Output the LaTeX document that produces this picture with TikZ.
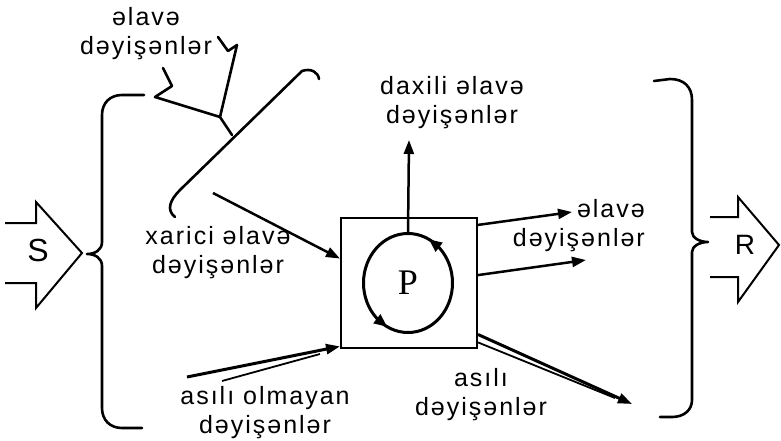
\documentclass[tikz,border=0pt]{standalone}
\usepackage{fontspec}
\setmainfont{Liberation Sans}
\newfontfamily\lblfont[LetterSpace=8]{Liberation Sans}
\newfontfamily\pfont{Liberation Serif}
\usetikzlibrary{arrows.meta,shapes.geometric,calc}
\begin{document}
\begin{tikzpicture}[x=1pt,y=-1pt,
  lbl/.style={font=\lblfont\fontsize{25}{29}\selectfont, align=center, inner sep=0pt},
  conn/.style={line width=2.5pt, -{Triangle[length=14pt,width=10pt]}},
  thinline/.style={line width=1.8pt},
  bracepath/.style={line width=2.6pt, line cap=round, line join=round},
  blockarrow/.style={line width=2pt, line join=miter},
  tip/.style={line width=2.5pt, -{Triangle[length=13pt,width=11pt]}}
]
\useasboundingbox (0,0) rectangle (781,441);

% main box and cycle
\node[draw, line width=2pt, minimum width=136, minimum height=130, inner sep=0pt] (box) at (409,283) {};
\node[draw, ellipse, line width=3pt, minimum width=89, minimum height=99, inner sep=0pt,
      font=\pfont\fontsize{36}{36}\selectfont] (circ) at (408,283) {P};
\draw[tip] (437.8,246.2) -- (428.9,239.3);
\draw[tip] (378.2,319.8) -- (387.1,326.7);

% block arrows
\draw[blockarrow] (5,223) -- (36,223) -- (36,202) -- (82,253) -- (36,308) -- (36,283) -- (5,283);
\node[font=\fontsize{32}{32}\selectfont, inner sep=0pt] (s) at (38,250) {S};
\draw[blockarrow] (710,217) -- (738,217) -- (738,197) -- (779,245) -- (738,302) -- (738,277) -- (710,277);
\node[font=\fontsize{28}{28}\selectfont, inner sep=0pt] (r) at (745,245) {R};

% braces
\draw[bracepath] (144,95) -- (122,95) .. controls (110,95) and (102,103) .. (102,115) -- (102,242)
  .. controls (102,250) and (95,254) .. (87,254) .. controls (95,254) and (102,258) .. (102,266)
  -- (102,408) .. controls (102,420) and (110,428) .. (122,428) -- (142,428);
\draw[bracepath] (654,81) -- (670,79) .. controls (684,79) and (692,87) .. (692,100) -- (692,232)
  .. controls (692,238) and (700,242) .. (708,242) .. controls (700,242) and (692,246) .. (692,252)
  -- (692,400) .. controls (692,410) and (684,417) .. (672,417) -- (660,417);

% labels
\node[lbl] (tl) at (146,34) {əlavə\\dəyişənlər};
\node[lbl] (dx) at (452,103) {daxili əlavə\\dəyişənlər};
\node[lbl] (xr) at (218,253) {xarici əlavə\\dəyişənlər};
\node[lbl] (ao) at (265,413) {asılı olmayan\\dəyişənlər};
\node[lbl, align=right, anchor=east] (rt) at (645,226) {əlavə\\dəyişənlər};
\node[lbl] (as) at (481,395) {asılı\\dəyişənlər};

% top-left bracket and pointer
\coordinate (dtop) at (319,79);
\coordinate (djoin) at (232,135);
\coordinate (zj) at (220,117);
\draw[bracepath] (dtop) .. controls (318,72) and (311,68) .. (302,71) -- (180,190)
  .. controls (170,200) and (166,210) .. (175,217);
\draw[bracepath] (218,37) -- (228,51) -- (237,45) -- (zj) -- (djoin);
\draw[bracepath] (163,68) -- (172,86) -- (155,97) -- (zj);

% connectors
\coordinate (xa) at (213,193);
\draw[conn] (xa) -- ($(box.north west)!0.315!(box.south west)$);
\coordinate (dxa) at (409,140);
\draw[conn] (circ.north) -- (dxa);
\coordinate (r1) at (572,212);
\coordinate (r2) at (586,260);
\draw[conn] ($(box.north east)!0.06!(box.south east)$) -- (r1);
\draw[conn] ($(box.north east)!0.44!(box.south east)$) -- (r2);
\coordinate (aoa) at (187,377);
\coordinate (aob) at (222,381);
\coordinate (aoc) at (320,354);
\draw[conn, line width=3pt] (aoa) -- ($(box.north west)!0.98!(box.south west)$);
\draw[thinline] (aob) -- (aoc);
\coordinate (asa) at (632,404);
\coordinate (asb) at (615,398);
\draw[conn, line width=3pt] ($(box.north east)!0.89!(box.south east)$) -- (asa);
\draw[thinline] ($(box.north east)!0.95!(box.south east)$) -- (asb);
\end{tikzpicture}
\end{document}
